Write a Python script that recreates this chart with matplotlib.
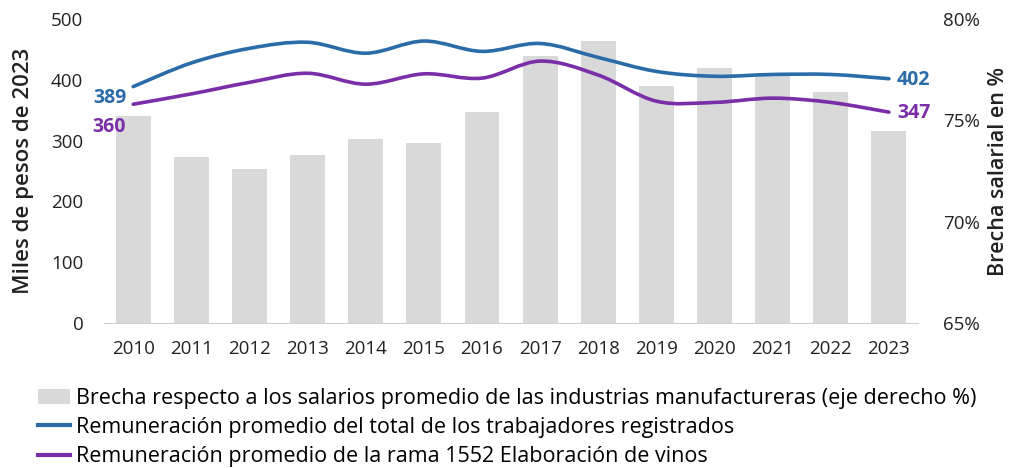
import numpy as np
import matplotlib.pyplot as plt
from matplotlib.path import Path
from matplotlib.patches import PathPatch, Patch
from matplotlib.lines import Line2D

years = ["2010", "2011", "2012", "2013", "2014", "2015", "2016",
         "2017", "2018", "2019", "2020", "2021", "2022", "2023"]
brecha = [75.2, 73.2, 72.6, 73.3, 74.1, 73.9, 75.4,
          78.2, 78.9, 76.7, 77.6, 77.3, 76.4, 74.5]
total = [389, 428, 452, 462, 444, 464, 447, 460, 437, 414, 406, 409, 409, 402]
vinos = [360, 377, 396, 411, 393, 410, 403, 431, 408, 365, 363, 370, 363, 347]

legend_labels = [
    "Brecha respecto a los salarios promedio de las industrias manufactureras (eje derecho %)",
    "Remuneración promedio del total de los trabajadores registrados",
    "Remuneración promedio de la rama 1552 Elaboración de vinos",
]

BLUE = "#2B6CA8"
PURPLE = "#7A2EA8"
GREY = "#D9D9D9"
TXT = "#222222"

plt.rcParams['font.family'] = ['Open Sans', 'DejaVu Sans']


def smooth_path(xs, ys):
    # cubic bezier through the points (catmull-rom style control points)
    xs = np.asarray(xs, float)
    ys = np.asarray(ys, float)
    n = len(xs)
    verts = [(xs[0], ys[0])]
    codes = [Path.MOVETO]
    t = 1 / 6
    for i in range(n - 1):
        p0 = i - 1 if i > 0 else i
        p3 = i + 2 if i + 2 < n else i + 1
        c1 = (xs[i] + (xs[i + 1] - xs[p0]) * t, ys[i] + (ys[i + 1] - ys[p0]) * t)
        c2 = (xs[i + 1] - (xs[p3] - xs[i]) * t, ys[i + 1] - (ys[p3] - ys[i]) * t)
        verts += [c1, c2, (xs[i + 1], ys[i + 1])]
        codes += [Path.CURVE4] * 3
    return Path(verts, codes)


fig = plt.figure(figsize=(10.11, 4.68), dpi=100)
ax = fig.add_axes([0.103, 0.310, 0.805, 0.649])
ax2 = ax.twinx()
ax.set_zorder(ax2.get_zorder() + 1)
ax.patch.set_visible(False)

x = np.arange(len(years))
ax2.bar(x, brecha, width=0.6, color=GREY, bottom=0)
ax2.set_ylim(65, 80)
ax2.set_yticks([65, 70, 75, 80])
ax2.set_yticklabels(["65%", "70%", "75%", "80%"])

for vals, col in [(total, BLUE), (vinos, PURPLE)]:
    ax.add_patch(PathPatch(smooth_path(x, vals), facecolor="none", edgecolor=col,
                           lw=2.6, capstyle="round", joinstyle="round"))

ax.set_xlim(-0.5, len(years) - 0.5)
ax.set_ylim(0, 500)
ax.set_yticks([0, 100, 200, 300, 400, 500])
ax.set_xticks(x)
ax.set_xticklabels(years)

for a in (ax, ax2):
    for s in a.spines.values():
        s.set_visible(False)
    a.tick_params(length=0, labelsize=13.5, colors=TXT)
ax.spines['bottom'].set_visible(True)
ax.spines['bottom'].set_color("#D0D0D0")
ax.tick_params(axis='y', pad=15)
ax.tick_params(axis='x', pad=12)
ax2.tick_params(axis='y', pad=18)

ax.set_ylabel("Miles de pesos de 2023", fontsize=16, fontweight="semibold", color=TXT, labelpad=12)
ax2.set_ylabel("Brecha salarial en %", fontsize=15.5, fontweight="semibold", color=TXT, labelpad=6)

ax.text(-0.12, total[0] - 3, str(total[0]), color=BLUE, fontsize=14, fontweight="bold",
        ha="right", va="top")
ax.text(-0.12, vinos[0] - 38, str(vinos[0]), color=PURPLE, fontsize=14, fontweight="bold",
        ha="right", va="center")
ax.text(x[-1] + 0.14, total[-1] - 2, str(total[-1]), color=BLUE, fontsize=14, fontweight="bold",
        ha="left", va="center")
ax.text(x[-1] + 0.14, vinos[-1] - 2, str(vinos[-1]), color=PURPLE, fontsize=14, fontweight="bold",
        ha="left", va="center")

handles = [Patch(facecolor=GREY, edgecolor="none"),
           Line2D([], [], color=BLUE, lw=3),
           Line2D([], [], color=PURPLE, lw=3)]
fig.legend(handles, legend_labels, loc="upper left", bbox_to_anchor=(0.029, 0.19),
           frameon=False, handlelength=1.5, handletextpad=0.25,
           labelspacing=0.38, borderaxespad=0, prop={'family': ['Open Sans'], 'size': 15.5})

fig.savefig("out.png", dpi=100)
